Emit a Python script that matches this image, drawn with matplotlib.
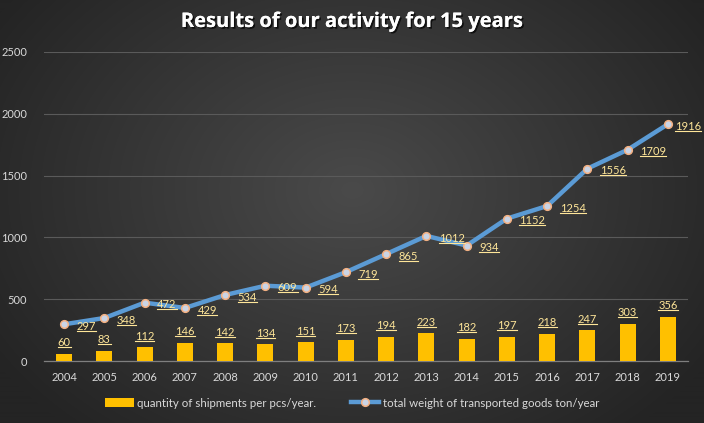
import numpy as np
import matplotlib
matplotlib.use("Agg")
import matplotlib.pyplot as plt
from matplotlib.lines import Line2D
import matplotlib.patheffects as pe

years = ["2004", "2005", "2006", "2007", "2008", "2009", "2010", "2011",
         "2012", "2013", "2014", "2015", "2016", "2017", "2018", "2019"]
shipments = [60, 83, 112, 146, 142, 134, 151, 173, 194, 223, 182, 197, 218, 247, 303, 356]
weight = [297, 348, 472, 429, 534, 609, 594, 719, 865, 1012, 934, 1152, 1254, 1556, 1709, 1916]
yticks = [0, 500, 1000, 1500, 2000, 2500]
title = "Results of our activity for 15 years"
bar_label = "quantity of shipments per pcs/year."
line_label = "total weight of transported goods ton/year"

plt.rcParams['font.family'] = ['Lato', 'DejaVu Sans']

W, H = 704, 423
fig = plt.figure(figsize=(W / 100, H / 100), dpi=100)

# radial gradient background
bg = fig.add_axes([0, 0, 1, 1], zorder=-10)
yy, xx = np.mgrid[0:H, 0:W]
r = np.sqrt(((xx - W * 0.5) / (W * 0.6)) ** 2 + ((yy - H * 0.45) / (H * 0.75)) ** 2)
r = np.clip(r, 0, 1)
c0 = np.array([0x4a, 0x4a, 0x4a]) / 255
c1 = np.array([0x24, 0x24, 0x24]) / 255
img = c0[None, None, :] * (1 - r[..., None]) + c1[None, None, :] * r[..., None]
bg.imshow(img, aspect='auto', extent=[0, 1, 0, 1])
bg.set_axis_off()

ax = fig.add_axes([44 / W, 1 - 361 / H, (688 - 44) / W, (361 - 52) / H])
ax.set_facecolor('none')
x = np.arange(len(years))

bars = ax.bar(x, shipments, width=0.4, color='#FFC000', zorder=3, label=bar_label)
line, = ax.plot(x, weight, color='#5B9BD5', lw=3.2, marker='o', ms=5.5,
                mfc='#C9D4E6', mec='#F4B183', mew=1.1, zorder=4, label=line_label)

ax.set_xlim(-0.5, len(years) - 0.5)
ax.set_ylim(0, 2500)
ax.set_yticks(yticks)
ax.set_xticks(x)
ax.set_xticklabels(years)
ax.tick_params(axis='both', length=0, colors='#D9D9D9', labelsize=8)
ax.tick_params(axis='y', pad=12)
ax.tick_params(axis='x', pad=8)
ax.grid(axis='y', color='#5a5a5a', lw=0.8, zorder=0)
for s in ['top', 'right', 'left']:
    ax.spines[s].set_visible(False)
ax.spines['bottom'].set_color('#7F7F7F')
ax.spines['bottom'].set_linewidth(0.9)

lab_color = '#FFE699'
texts = []
for xi, v in zip(x, shipments):
    t = ax.annotate(str(v), (xi, v), xytext=(0, 4), textcoords='offset points',
                    ha='center', va='bottom', color=lab_color, fontsize=8, zorder=5)
    texts.append(t)
n = len(weight)
for i, (xi, v) in enumerate(zip(x, weight)):
    dx = 9 if i < n - 1 else 5
    t = ax.annotate(str(v), (xi, v), xytext=(dx, -1.5), textcoords='offset points',
                    ha='left', va='center', color=lab_color, fontsize=8, zorder=5)
    texts.append(t)

fig.text(0.5, 1 - 22 / H, title, ha='center', va='center', color='white',
         fontsize=14.5, fontweight='bold', family=['Open Sans', 'DejaVu Sans'],
         path_effects=[pe.withSimplePatchShadow(offset=(1.2, -1.2), shadow_rgbFace='black', alpha=0.7), pe.Normal()])

leg = fig.legend(handles=[bars, line], loc='center', bbox_to_anchor=(0.5, 1 - 403 / H), ncol=2,
                 frameon=False, fontsize=8.3, labelcolor='#D9D9D9', handlelength=2.5,
                 columnspacing=3, handletextpad=0.3)

# underline the data labels
fig.canvas.draw()
renderer = fig.canvas.get_renderer()
inv = fig.transFigure.inverted()
for t in texts:
    bb = t.get_window_extent(renderer)
    (x0, y0), (x1, y1) = inv.transform([(bb.x0, bb.y0 + 1.0), (bb.x1, bb.y0 + 1.0)])
    fig.add_artist(Line2D([x0, x1], [y0, y1], transform=fig.transFigure,
                          color=lab_color, lw=0.8, zorder=6))

fig.savefig('out.png', dpi=100)
